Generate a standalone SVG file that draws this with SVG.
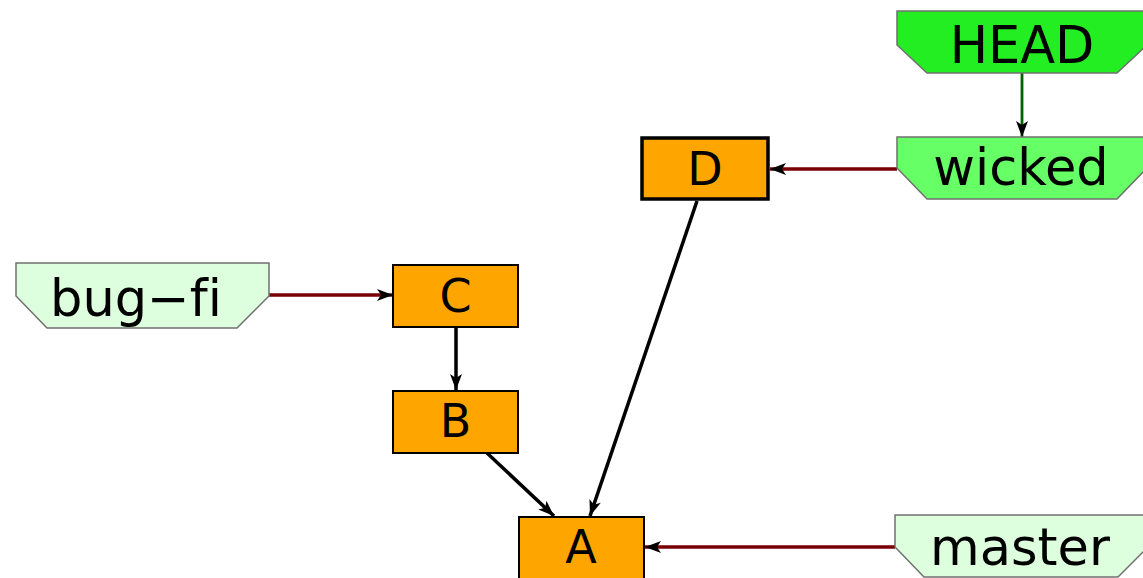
<svg xmlns="http://www.w3.org/2000/svg" width="1143" height="578" viewBox="0 0 1143 578">
<style>
  .commit rect { fill: #ffa500; stroke: #000; stroke-width: 2; }
  .commit text { font-family: "DejaVu Sans", sans-serif; font-size: 46px; text-anchor: middle; fill: #000; }
  .ref polygon { stroke: #707070; stroke-width: 1.5; }
  .ref text { font-family: "DejaVu Sans", sans-serif; font-size: 51px; text-anchor: middle; fill: #000; font-variant-ligatures: none; font-feature-settings: "liga" 0; }
  .branch polygon { fill: #ddffdd; }
  .edge { fill: none; stroke-width: 3.5; }
  .parent { stroke: #000; }
  .points { stroke: #7a0000; }
  .head { stroke: #006400; stroke-width: 2.8; }
</style>
<defs>
  <marker id="arr" markerUnits="userSpaceOnUse" markerWidth="18" markerHeight="14" viewBox="-17 -7 18 14" refX="0" refY="0" orient="auto">
    <path d="M0,0 L-16,-6 L-12,0 L-16,6 Z" fill="#000"/>
  </marker>
</defs>
<g id="connectors">
  <line class="edge head" x1="1022" y1="73" x2="1022" y2="137" marker-end="url(#arr)"/>
  <line class="edge points" x1="897" y1="169" x2="770" y2="169" marker-end="url(#arr)"/>
  <line class="edge points" x1="269" y1="295" x2="393" y2="295" marker-end="url(#arr)"/>
  <line class="edge parent" x1="456" y1="327" x2="456" y2="390" marker-end="url(#arr)"/>
  <line class="edge parent" x1="487" y1="453" x2="554" y2="516" marker-end="url(#arr)"/>
  <line class="edge parent" x1="697" y1="201" x2="590" y2="516" marker-end="url(#arr)"/>
  <line class="edge points" x1="895" y1="547" x2="645" y2="547" marker-end="url(#arr)"/>
</g>
<g id="node-HEAD" class="ref">
  <polygon points="897,11 1147,11 1147,45 1117,73 927,73 897,45" fill="#22ee22"/>
  <text x="1022" y="63">HEAD</text>
</g>
<g id="node-wicked" class="ref">
  <polygon points="897,137 1147,137 1147,168 1117,199 927,199 897,168" fill="#66ff66"/>
  <text x="1021" y="185">wicked</text>
</g>
<g id="node-bugfix" class="ref branch">
  <polygon points="16,263 269,263 269,296 237,328 47,328 16,296"/>
  <text x="136" y="316">bug−fi</text>
</g>
<g id="node-master" class="ref branch">
  <polygon points="895,515 1148,515 1148,547 1118,577 924,577 895,547"/>
  <text x="1020" y="565">master</text>
</g>
<g id="node-D" class="commit">
  <rect x="642" y="138" width="126" height="61" style="stroke-width:3.5"/>
  <text x="705" y="185">D</text>
</g>
<g id="node-C" class="commit">
  <rect x="393" y="265" width="125" height="62"/>
  <text x="455.5" y="312">C</text>
</g>
<g id="node-B" class="commit">
  <rect x="393" y="391" width="125" height="62"/>
  <text x="455.5" y="437">B</text>
</g>
<g id="node-A" class="commit">
  <rect x="519" y="517" width="125" height="64"/>
  <text x="581" y="563">A</text>
</g>
</svg>
